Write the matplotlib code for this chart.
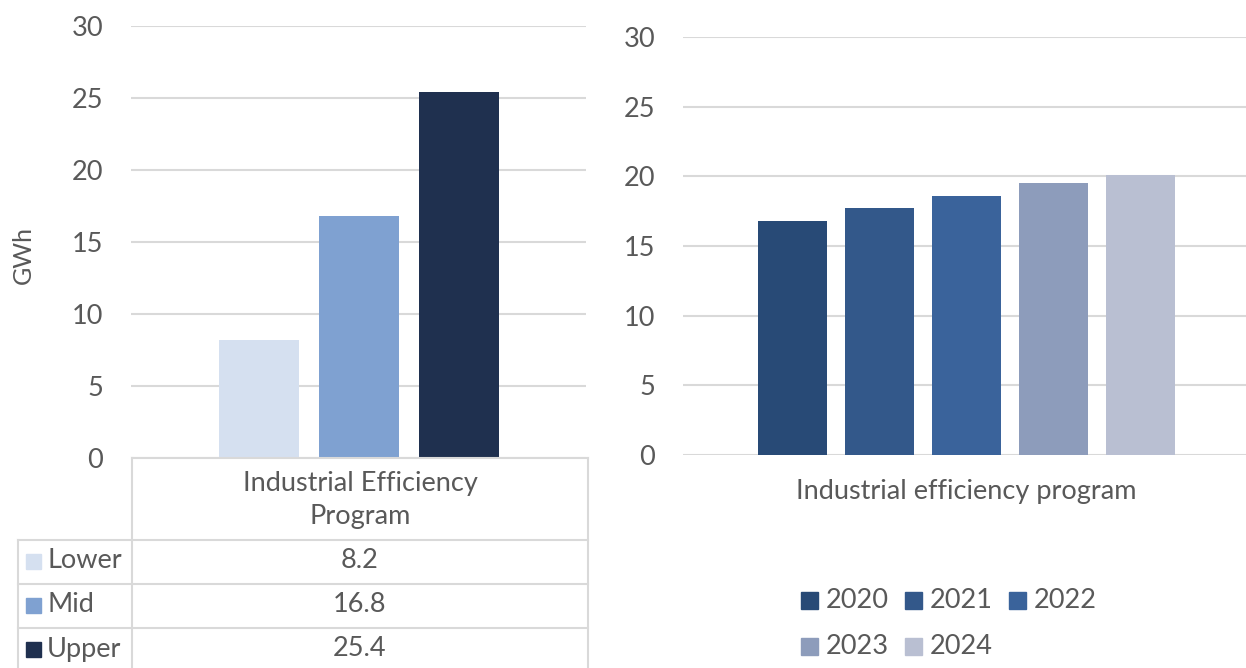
import matplotlib
matplotlib.use("Agg")
import matplotlib.pyplot as plt
from matplotlib.patches import Rectangle
from matplotlib.lines import Line2D

plt.rcParams['font.family'] = ['Lato', 'DejaVu Sans']

# ---- data ----
scen_labels = ["Lower", "Mid", "Upper"]
scen_values = [8.2, 16.8, 25.4]
scen_colors = ["#D5E0F0", "#7FA1D1", "#1F304F"]
left_category = "Industrial Efficiency\nProgram"

years = ["2020", "2021", "2022", "2023", "2024"]
year_values = [16.8, 17.7, 18.6, 19.5, 20.1]
year_colors = ["#284A76", "#33588A", "#3A639B", "#8D9CBB", "#B9BFD2"]
right_category = "Industrial efficiency program"

yticks = [0, 5, 10, 15, 20, 25, 30]

TXT = "#595959"
GRID = "#D9D9D9"
FS = 19.5
W, H = 1246, 668

fig = plt.figure(figsize=(W / 100, H / 100), dpi=100)

def fr(x0, y0, x1, y1):
    return [x0 / W, 1 - y1 / H, (x1 - x0) / W, (y1 - y0) / H]

# ---- left chart ----
axL = fig.add_axes(fr(131, 26, 586, 458))
n = len(scen_values)
bw = 80 / 455
step = 100 / 455
for i, (v, c) in enumerate(zip(scen_values, scen_colors)):
    axL.bar((i - (n - 1) / 2) * step, v, width=bw, color=c, zorder=2)
axL.set_xlim(-0.5, 0.5)
axL.set_ylim(0, 30)
axL.set_yticks(yticks)
axL.set_xticks([])
axL.tick_params(axis='y', length=0, pad=20, labelsize=FS, labelcolor=TXT)
axL.yaxis.grid(True, color=GRID, lw=1.5, zorder=0)
for s in axL.spines.values():
    s.set_visible(False)
fig.text(23 / W, 1 - 255 / H, "GWh", rotation=90, ha='center', va='center',
         fontsize=FS - 1.5, color=TXT)

# ---- right chart ----
axR = fig.add_axes(fr(683, 37, 1246, 455))
m = len(year_values)
span = 567
bw2 = 69 / span
step2 = 87 / span
for i, (v, c) in enumerate(zip(year_values, year_colors)):
    axR.bar((i - (m - 1) / 2) * step2, v, width=bw2, color=c, zorder=2)
axR.set_xlim(-0.5, 0.5 - 4 / span)
axR.set_ylim(0, 30)
axR.set_yticks(yticks)
axR.set_xticks([])
axR.tick_params(axis='y', length=0, pad=20, labelsize=FS, labelcolor=TXT)
axR.yaxis.grid(True, color=GRID, lw=1.5, zorder=0)
for s in axR.spines.values():
    s.set_visible(False)

# ---- overlay (table, labels, legend) ----
ov = fig.add_axes([0, 0, 1, 1], facecolor='none')
ov.set_xlim(0, W)
ov.set_ylim(H, 0)
ov.axis('off')

def hline(y, x0, x1):
    ov.add_line(Line2D([x0, x1], [y, y], color=GRID, lw=1.5))

def vline(x, y0, y1):
    ov.add_line(Line2D([x, x], [y0, y1], color=GRID, lw=1.5))

rows_y = [540, 584, 628, 672]
hline(458, 132, 588)
for y in rows_y[:-1]:
    hline(y, 18, 588)
vline(132, 458, H)
vline(588, 458, H)
vline(18, 540, H)

ov.text(360, 500, left_category, ha='center', va='center', fontsize=FS,
        color=TXT, linespacing=1.4)
for i, (lab, v, c) in enumerate(zip(scen_labels, scen_values, scen_colors)):
    yc = (rows_y[i] + rows_y[i + 1]) / 2 - 1
    ov.add_patch(Rectangle((26, yc - 7.5), 15, 15, color=c))
    ov.text(47, yc, lab, ha='left', va='center', fontsize=FS, color=TXT)
    ov.text(360, yc, f"{v}", ha='center', va='center', fontsize=FS, color=TXT)

ov.text(966, 492, right_category, ha='center', va='center', fontsize=FS, color=TXT)

# legend for right chart
lx = [801, 905, 1009]
ly = [600, 646]
for i, (lab, c) in enumerate(zip(years, year_colors)):
    r, col = divmod(i, 3)
    ov.add_patch(Rectangle((lx[col], ly[r] - 8.5), 17, 17, color=c))
    ov.text(lx[col] + 25, ly[r], lab, ha='left', va='center', fontsize=FS, color=TXT)

fig.savefig("out.png", dpi=100)
